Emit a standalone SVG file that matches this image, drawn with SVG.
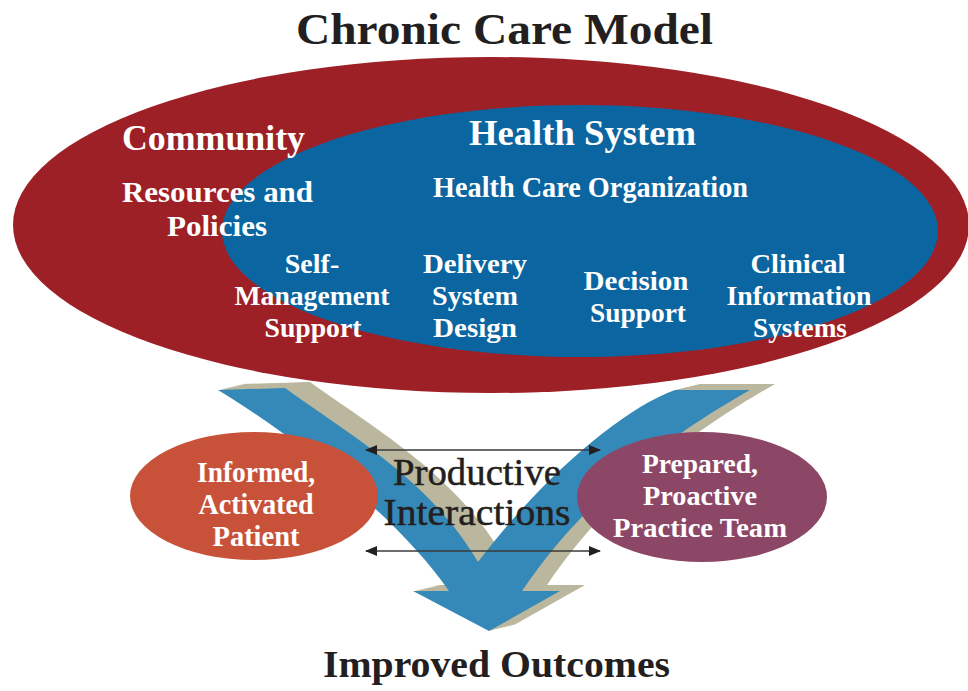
<svg xmlns="http://www.w3.org/2000/svg" xmlns:xlink="http://www.w3.org/1999/xlink" width="968" height="691" viewBox="0 0 968 691">
  <style>
    .head { font-family: "Liberation Serif", "DejaVu Serif", serif; font-weight: bold; fill: #231F20; }
    .lbl { font-family: "Liberation Serif", "DejaVu Serif", serif; font-weight: bold; fill: #FFFFFF; }
    .mid { text-anchor: middle; }
    .dark { font-family: "Liberation Serif", "DejaVu Serif", serif; fill: #231F20; stroke: #231F20; stroke-width: 0.5; }
    .link { stroke: #3A3A3A; stroke-width: 1.6; fill: none; marker-start: url(#headStart); marker-end: url(#headEnd); }
  </style>
  <defs>
    <!-- V-shaped flow arrow: two curved arms joining into one arrowhead -->
    <path id="vshape" d="M218,390 L285,388 C350,435 430,480 478,562 C540,480 620,410 675,390 L750,390 C680,430 590,490 522,591 L560,591 L489,631 L413,591 L449,591 C400,520 300,440 218,390 Z"/>
    <marker id="headEnd" viewBox="0 0 12 10" refX="11" refY="5" markerWidth="12" markerHeight="10" markerUnits="userSpaceOnUse" orient="auto">
      <path d="M0,0 L12,5 L0,10 Z" fill="#231F20"/>
    </marker>
    <marker id="headStart" viewBox="0 0 12 10" refX="1" refY="5" markerWidth="12" markerHeight="10" markerUnits="userSpaceOnUse" orient="auto">
      <path d="M12,0 L0,5 L12,10 Z" fill="#231F20"/>
    </marker>
  </defs>

  <rect width="968" height="691" fill="#FFFFFF"/>

  <!-- title -->
  <g id="title">
    <text class="head" x="296" y="44" font-size="45" textLength="417" lengthAdjust="spacingAndGlyphs">Chronic Care Model</text>
  </g>

  <!-- productive interactions: extruded V arrow -->
  <g id="interactions">
    <g fill="#BAB79E">
      <use xlink:href="#vshape" transform="translate(2.5,-0.6)"/>
      <use xlink:href="#vshape" transform="translate(5,-1.2)"/>
      <use xlink:href="#vshape" transform="translate(7.5,-1.8)"/>
      <use xlink:href="#vshape" transform="translate(10,-2.4)"/>
      <use xlink:href="#vshape" transform="translate(12.5,-3)"/>
      <use xlink:href="#vshape" transform="translate(15,-3.6)"/>
      <use xlink:href="#vshape" transform="translate(17.5,-4.2)"/>
      <use xlink:href="#vshape" transform="translate(20,-4.8)"/>
      <use xlink:href="#vshape" transform="translate(22.5,-5.4)"/>
      <use xlink:href="#vshape" transform="translate(25,-6)"/>
    </g>
    <use xlink:href="#vshape" fill="#3589B8"/>
  </g>

  <!-- community (outer ellipse) -->
  <g id="community">
    <ellipse cx="491" cy="225" rx="478" ry="168" fill="#9E2027"/>
  </g>

  <!-- health system (inner ellipse) -->
  <g id="health-system">
    <ellipse cx="580" cy="231" rx="358" ry="126" fill="#0B65A0"/>
    <text class="lbl" x="469" y="145" font-size="36" textLength="227" lengthAdjust="spacingAndGlyphs">Health System</text>
    <text class="lbl" x="433" y="197" font-size="29" textLength="315" lengthAdjust="spacingAndGlyphs">Health Care Organization</text>

    <g id="self-management">
      <text class="lbl mid" x="312" y="273" font-size="28">Self-</text>
      <text class="lbl mid" x="312" y="305" font-size="28" textLength="155" lengthAdjust="spacingAndGlyphs">Management</text>
      <text class="lbl mid" x="313" y="337" font-size="28" textLength="97" lengthAdjust="spacingAndGlyphs">Support</text>
    </g>
    <g id="delivery-system">
      <text class="lbl mid" x="475" y="273" font-size="28" textLength="104" lengthAdjust="spacingAndGlyphs">Delivery</text>
      <text class="lbl mid" x="475" y="305" font-size="28" textLength="86" lengthAdjust="spacingAndGlyphs">System</text>
      <text class="lbl mid" x="475" y="337" font-size="28" textLength="84" lengthAdjust="spacingAndGlyphs">Design</text>
    </g>
    <g id="decision-support">
      <text class="lbl mid" x="636" y="290" font-size="28" textLength="105" lengthAdjust="spacingAndGlyphs">Decision</text>
      <text class="lbl mid" x="638" y="322" font-size="28" textLength="96" lengthAdjust="spacingAndGlyphs">Support</text>
    </g>
    <g id="clinical-info">
      <text class="lbl mid" x="798" y="273" font-size="28" textLength="95" lengthAdjust="spacingAndGlyphs">Clinical</text>
      <text class="lbl mid" x="799" y="305" font-size="28" textLength="145" lengthAdjust="spacingAndGlyphs">Information</text>
      <text class="lbl mid" x="800" y="337" font-size="28" textLength="94" lengthAdjust="spacingAndGlyphs">Systems</text>
    </g>
  </g>

  <!-- community labels sit on top of both ellipses -->
  <g id="community-labels">
    <text class="lbl" x="122" y="150" font-size="36" textLength="183" lengthAdjust="spacingAndGlyphs">Community</text>
    <text class="lbl" x="122" y="202" font-size="30" textLength="191" lengthAdjust="spacingAndGlyphs">Resources and</text>
    <text class="lbl" x="167" y="236" font-size="30" textLength="100" lengthAdjust="spacingAndGlyphs">Policies</text>
  </g>

  <!-- informed, activated patient -->
  <g id="patient">
    <ellipse cx="254" cy="496" rx="124" ry="64" fill="#C8513A"/>
    <text class="lbl mid" x="256" y="482" font-size="29" textLength="118" lengthAdjust="spacingAndGlyphs">Informed,</text>
    <text class="lbl mid" x="256" y="514" font-size="29" textLength="115" lengthAdjust="spacingAndGlyphs">Activated</text>
    <text class="lbl mid" x="256" y="546" font-size="29" textLength="87" lengthAdjust="spacingAndGlyphs">Patient</text>
  </g>

  <!-- prepared, proactive practice team -->
  <g id="team">
    <ellipse cx="702" cy="497" rx="125" ry="65" fill="#8C4767"/>
    <text class="lbl mid" x="700" y="473" font-size="28" textLength="116" lengthAdjust="spacingAndGlyphs">Prepared,</text>
    <text class="lbl mid" x="700" y="505" font-size="28" textLength="114" lengthAdjust="spacingAndGlyphs">Proactive</text>
    <text class="lbl mid" x="700" y="537" font-size="28" textLength="174" lengthAdjust="spacingAndGlyphs">Practice Team</text>
  </g>

  <!-- two-way interaction connectors -->
  <g id="connectors">
    <line class="link" x1="366" y1="450" x2="600" y2="450"/>
    <line class="link" x1="366" y1="551" x2="600" y2="551"/>
  </g>

  <g id="interactions-label">
    <text class="dark mid" x="477" y="485" font-size="37" textLength="168" lengthAdjust="spacingAndGlyphs">Productive</text>
    <text class="dark mid" x="477" y="525" font-size="37" textLength="187" lengthAdjust="spacingAndGlyphs">Interactions</text>
  </g>

  <!-- outcome -->
  <g id="outcomes">
    <text class="head" x="323" y="677" font-size="37" textLength="347" lengthAdjust="spacingAndGlyphs">Improved Outcomes</text>
  </g>
</svg>
